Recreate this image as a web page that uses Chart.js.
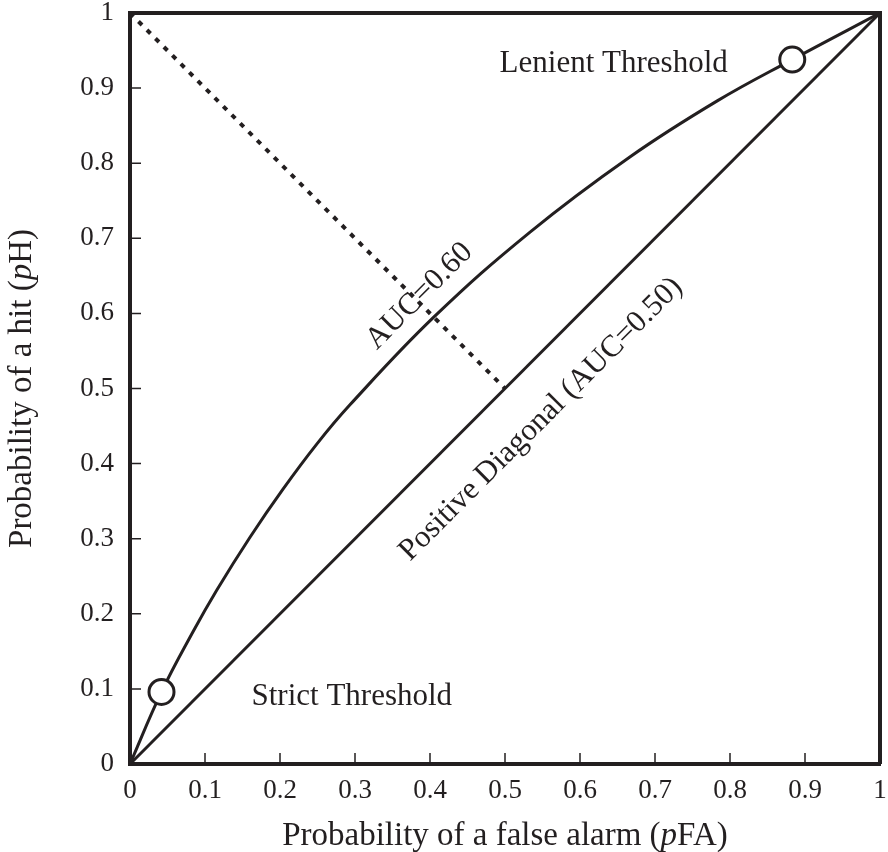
<!DOCTYPE html>
<html>
<head>
<meta charset="utf-8">
<script src="https://cdn.jsdelivr.net/npm/chart.js@4.4.1/dist/chart.umd.min.js"></script>
<style>
  html, body { margin: 0; padding: 0; background: #fff; overflow: hidden; }
  #wrap { width: 888px; height: 852px; position: relative; }
  canvas { display: block; }
</style>
</head>
<body>
<div id="wrap"><canvas id="roc"></canvas></div>
<script>
// tick marks on both axes
const tickValues = [0, 0.1, 0.2, 0.3, 0.4, 0.5, 0.6, 0.7, 0.8, 0.9, 1];
const tickLabels = ['0', '0.1', '0.2', '0.3', '0.4', '0.5', '0.6', '0.7', '0.8', '0.9', '1'];

// ROC curve (AUC = 0.60)
const rocFA  = [0, 0.042, 0.084, 0.116, 0.160, 0.204, 0.249, 0.293, 0.405, 0.533, 0.666, 0.783, 0.883, 1];
const rocHit = [0, 0.096, 0.176, 0.232, 0.302, 0.366, 0.426, 0.478, 0.595, 0.708, 0.808, 0.883, 0.938, 1];

// positive diagonal
const diagFA  = [0, 1];
const diagHit = [0, 1];

// dotted line from (0,1) to the diagonal
const dropFA  = [0, 0.5];
const dropHit = [1, 0.5];

// strict / lenient thresholds
const thresholdFA  = [0.042, 0.883];
const thresholdHit = [0.096, 0.938];

const INK = '#231f20';
const SERIF = "'Liberation Serif', 'Times New Roman', serif";

const toPoints = (xs, ys) => xs.map((x, i) => ({ x: x, y: ys[i] }));

// draw text made of normal / italic pieces
function drawRich(ctx, parts, x, y, size) {
  let total = 0;
  parts.forEach(p => {
    ctx.font = (p[1] ? 'italic ' : '') + size + 'px ' + SERIF;
    total += ctx.measureText(p[0]).width;
  });
  let cx = x - total / 2;
  ctx.textAlign = 'left';
  parts.forEach(p => {
    ctx.font = (p[1] ? 'italic ' : '') + size + 'px ' + SERIF;
    ctx.fillText(p[0], cx, y);
    cx += ctx.measureText(p[0]).width;
  });
}

// frame, inner ticks, axis titles and notes
const decorations = {
  id: 'decorations',
  afterDatasetsDraw(chart) {
    const { ctx, chartArea: a, scales: { x, y } } = chart;
    ctx.save();
    ctx.strokeStyle = INK;
    ctx.lineWidth = 4;
    ctx.beginPath();
    ctx.moveTo(a.left, a.top);
    ctx.lineTo(a.right, a.top);
    ctx.lineTo(a.right, a.bottom);
    ctx.stroke();

    ctx.lineWidth = 1.5;
    tickValues.slice(1, -1).forEach(v => {
      const px = x.getPixelForValue(v);
      const py = y.getPixelForValue(v);
      ctx.beginPath();
      ctx.moveTo(px, a.bottom);
      ctx.lineTo(px, a.bottom - 11);
      ctx.moveTo(a.left, py);
      ctx.lineTo(a.left + 11, py);
      ctx.stroke();
    });

    ctx.fillStyle = INK;
    ctx.textBaseline = 'alphabetic';
    drawRich(ctx, [['Probability of a false alarm (', false], ['p', true], ['FA)', false]],
      (a.left + a.right) / 2, 845, 33);
    ctx.save();
    ctx.translate(31, (a.top + a.bottom) / 2);
    ctx.rotate(-Math.PI / 2);
    drawRich(ctx, [['Probability of a hit (', false], ['p', true], ['H)', false]], 0, 0, 33);
    ctx.restore();

    ctx.font = '31px ' + SERIF;
    ctx.textAlign = 'right';
    ctx.fillText('Lenient Threshold', x.getPixelForValue(0.797), y.getPixelForValue(0.922));
    ctx.textAlign = 'left';
    ctx.fillText('Strict Threshold', x.getPixelForValue(0.162), y.getPixelForValue(0.078));

    const rotated = (text, vx, vy) => {
      ctx.save();
      ctx.translate(x.getPixelForValue(vx), y.getPixelForValue(vy));
      ctx.rotate(-Math.PI / 4);
      ctx.textAlign = 'center';
      ctx.textBaseline = 'middle';
      ctx.fillText(text, 0, 0);
      ctx.restore();
    };
    rotated('AUC=0.60', 0.386, 0.623);
    rotated('Positive Diagonal (AUC=0.50)', 0.548, 0.459);
    ctx.restore();
  }
};

const axisCommon = {
  type: 'linear',
  min: 0,
  max: 1,
  afterBuildTicks: scale => { scale.ticks = tickValues.map(v => ({ value: v })); },
  grid: { display: false, drawTicks: false },
  border: { display: true, width: 4, color: INK },
  ticks: {
    autoSkip: false,
    maxRotation: 0,
    color: INK,
    font: { family: SERIF, size: 27 },
    callback: (v, i) => tickLabels[i]
  }
};

window.addEventListener('DOMContentLoaded', () => {
  const ctx = document.getElementById('roc').getContext('2d');
  new Chart(ctx, {
    type: 'scatter',
    data: {
      datasets: [
        {
          data: toPoints(thresholdFA, thresholdHit),
          showLine: false,
          pointRadius: 12.5,
          pointBorderWidth: 3,
          pointBackgroundColor: '#fff',
          pointBorderColor: INK,
          order: 0
        },
        {
          data: toPoints(rocFA, rocHit),
          showLine: true,
          tension: 0.4,
          borderColor: INK,
          borderWidth: 3,
          pointRadius: 0,
          order: 1
        },
        {
          data: toPoints(diagFA, diagHit),
          showLine: true,
          borderColor: INK,
          borderWidth: 3,
          pointRadius: 0,
          order: 2
        },
        {
          data: toPoints(dropFA, dropHit),
          showLine: true,
          borderColor: INK,
          borderWidth: 4,
          borderDash: [5, 7],
          pointRadius: 0,
          order: 3
        }
      ]
    },
    options: {
      responsive: true,
      maintainAspectRatio: false,
      animation: false,
      layout: { autoPadding: false, padding: { top: 13, right: 8, left: 0, bottom: 0 } },
      plugins: { legend: { display: false }, tooltip: { enabled: false } },
      scales: {
        x: Object.assign({}, axisCommon, {
          position: 'bottom',
          ticks: Object.assign({}, axisCommon.ticks, { padding: 11 }),
          afterFit: s => { s.height = 88; s.paddingLeft = 0; s.paddingRight = 0; }
        }),
        y: Object.assign({}, axisCommon, {
          position: 'left',
          ticks: Object.assign({}, axisCommon.ticks, { padding: 16 }),
          afterFit: s => { s.width = 130; s.paddingTop = 0; s.paddingBottom = 0; }
        })
      }
    },
    plugins: [decorations]
  });
});
</script>
</body>
</html>
